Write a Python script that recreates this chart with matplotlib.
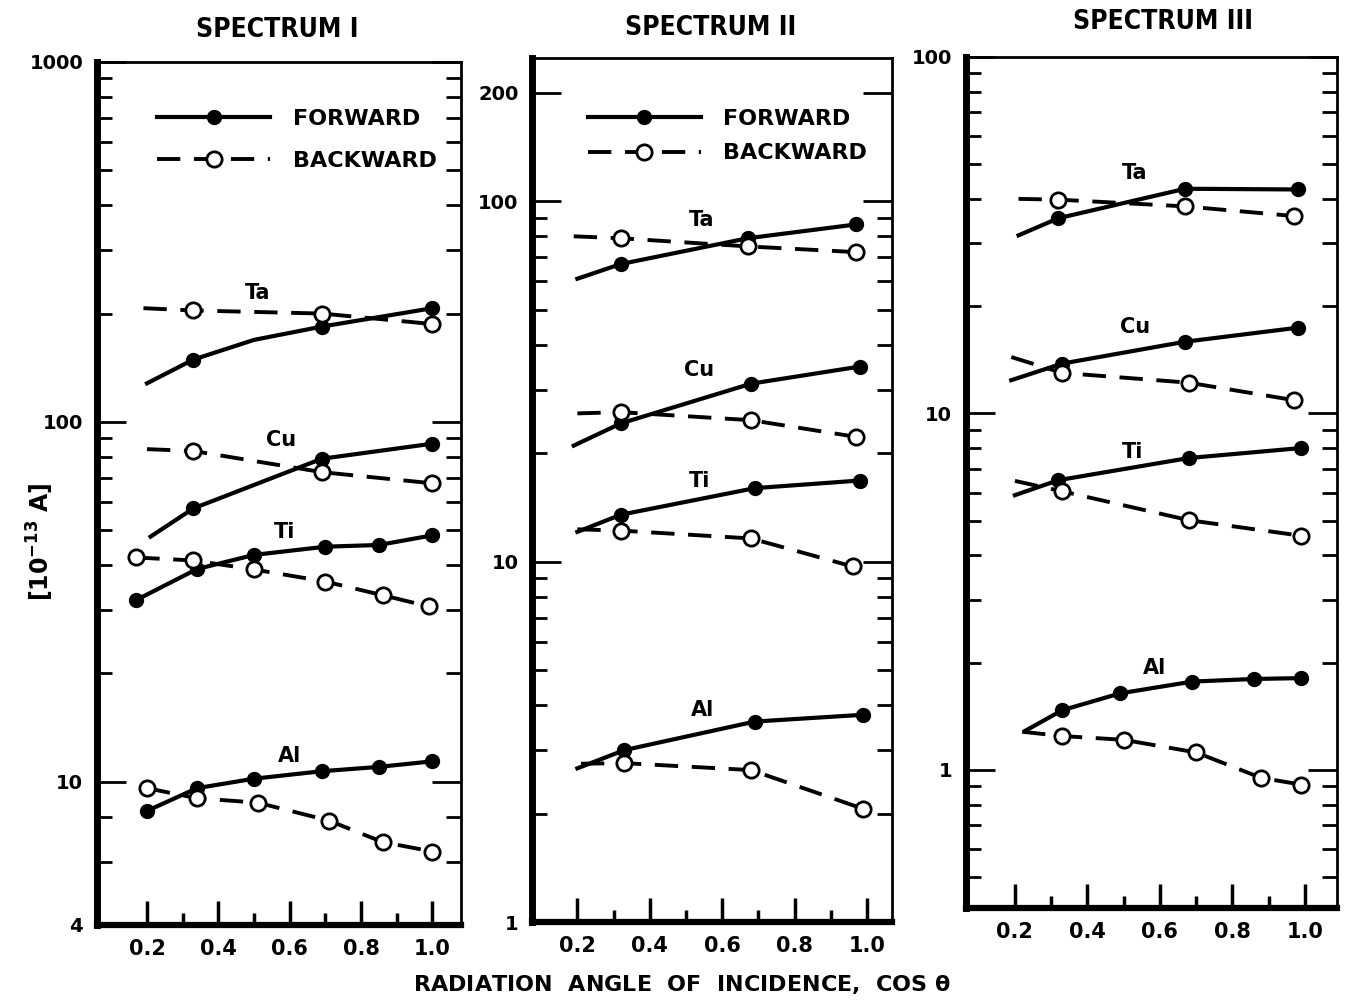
import matplotlib
matplotlib.use('Agg')
import matplotlib.pyplot as plt
from matplotlib.ticker import FixedLocator, NullFormatter
from matplotlib.lines import Line2D

plt.rcParams['font.family'] = ['DejaVu Sans']
plt.rcParams['font.weight'] = 'bold'
plt.rcParams['mathtext.default'] = 'bf'

# ---- data (first point of a curve with start=1 is the curve end, no marker) ----
# SPECTRUM I
s1_ta_fx, s1_ta_fy = [0.20, 0.33, 0.50, 0.69, 1.00], [128, 149, 169, 184, 207]
s1_ta_bx, s1_ta_by = [0.19, 0.33, 0.69, 1.00], [207, 204, 200, 187]
s1_cu_fx, s1_cu_fy = [0.21, 0.33, 0.69, 1.00], [48, 57.5, 79, 87]
s1_cu_bx, s1_cu_by = [0.20, 0.33, 0.69, 1.00], [84, 83, 72.5, 67.5]
s1_ti_fx, s1_ti_fy = [0.17, 0.34, 0.50, 0.70, 0.85, 1.00], [32, 39, 42.7, 45, 45.5, 48.4]
s1_ti_bx, s1_ti_by = [0.17, 0.33, 0.50, 0.70, 0.86, 0.99], [42, 41.2, 38.9, 36, 33, 30.7]
s1_al_fx, s1_al_fy = [0.20, 0.34, 0.50, 0.69, 0.85, 1.00], [8.3, 9.6, 10.2, 10.7, 11.0, 11.4]
s1_al_bx, s1_al_by = [0.20, 0.34, 0.51, 0.71, 0.86, 1.00], [9.6, 9.0, 8.75, 7.8, 6.8, 6.4]

# SPECTRUM II
s2_ta_fx, s2_ta_fy = [0.20, 0.32, 0.67, 0.97], [61, 67, 79, 86.3]
s2_ta_bx, s2_ta_by = [0.19, 0.32, 0.67, 0.97], [80, 79, 75, 72.3]
s2_cu_fx, s2_cu_fy = [0.19, 0.32, 0.68, 0.98], [21, 24.2, 31.2, 34.8]
s2_cu_bx, s2_cu_by = [0.20, 0.32, 0.68, 0.97], [25.8, 26, 24.7, 22.2]
s2_ti_fx, s2_ti_fy = [0.20, 0.32, 0.69, 0.98], [12.1, 13.5, 16.0, 16.8]
s2_ti_bx, s2_ti_by = [0.20, 0.32, 0.68, 0.96], [12.3, 12.2, 11.6, 9.7]
s2_al_fx, s2_al_fy = [0.20, 0.33, 0.69, 0.99], [2.67, 3.0, 3.6, 3.76]
s2_al_bx, s2_al_by = [0.21, 0.33, 0.68, 0.99], [2.75, 2.76, 2.64, 2.06]

# SPECTRUM III
s3_ta_fx, s3_ta_fy = [0.21, 0.32, 0.67, 0.98], [31.6, 35.3, 42.7, 42.5]
s3_ta_bx, s3_ta_by = [0.21, 0.32, 0.67, 0.97], [40, 39.8, 38.1, 35.8]
s3_cu_fx, s3_cu_fy = [0.19, 0.33, 0.67, 0.98], [12.4, 13.8, 15.9, 17.4]
s3_cu_bx, s3_cu_by = [0.19, 0.33, 0.68, 0.97], [14.4, 13.0, 12.2, 10.9]
s3_ti_fx, s3_ti_fy = [0.20, 0.32, 0.68, 0.99], [5.9, 6.5, 7.5, 8.0]
s3_ti_bx, s3_ti_by = [0.20, 0.33, 0.68, 0.99], [6.47, 6.05, 5.02, 4.54]
s3_al_fx, s3_al_fy = [0.23, 0.33, 0.49, 0.69, 0.86, 0.99], [1.29, 1.47, 1.64, 1.77, 1.80, 1.81]
s3_al_bx, s3_al_by = [0.22, 0.33, 0.50, 0.70, 0.88, 0.99], [1.28, 1.245, 1.215, 1.12, 0.95, 0.91]

x_ticks = [0.2, 0.4, 0.6, 0.8, 1.0]
x_ticklabels = ['0.2', '0.4', '0.6', '0.8', '1.0']
elements = ['Ta', 'Cu', 'Ti', 'Al']

fig = plt.figure(figsize=(13.48, 10), dpi=100)
ax1 = fig.add_axes([0.072, 0.075, 0.270, 0.863])
ax2 = fig.add_axes([0.395, 0.078, 0.267, 0.864])
ax3 = fig.add_axes([0.7166, 0.092, 0.275, 0.851])


def style(ax, ylim, ymajor, ylabels, yminor, xlim):
    ax.set_yscale('log')
    ax.set_ylim(*ylim)
    ax.set_xlim(*xlim)
    ax.yaxis.set_major_locator(FixedLocator(ymajor))
    ax.set_yticklabels(ylabels)
    ax.yaxis.set_minor_locator(FixedLocator(yminor))
    ax.yaxis.set_minor_formatter(NullFormatter())
    ax.set_xticks(x_ticks)
    ax.set_xticklabels(x_ticklabels)
    ax.set_xticks([0.3, 0.5, 0.7, 0.9], minor=True)
    ax.tick_params(axis='y', which='major', direction='in', length=21, width=2,
                   left=True, right=True, labelsize=14, pad=10)
    ax.tick_params(axis='y', which='minor', direction='in', length=11, width=2,
                   left=True, right=True)
    ax.tick_params(axis='x', which='major', direction='in', length=17, width=2.5,
                   labelsize=15, pad=10)
    ax.tick_params(axis='x', which='minor', direction='in', length=9, width=2.5)
    ax.spines['left'].set_linewidth(5)
    ax.spines['bottom'].set_linewidth(4.5)
    ax.spines['top'].set_linewidth(2)
    ax.spines['right'].set_linewidth(2)


def fwd(ax, x, y, marks=None):
    ax.plot(x, y, '-', color='k', lw=3, marker='o', ms=10, mfc='k', mec='k',
            markevery=marks, zorder=3)


def bwd(ax, x, y, marks=None):
    ax.plot(x, y, color='k', lw=2.8, ls=(0, (6, 3.5)), marker='o', ms=11,
            mfc='white', mec='k', mew=2, markevery=marks, zorder=4)


def legend(ax, anchor, spacing):
    h = [Line2D([], [], color='k', lw=3, marker='o', ms=10, mfc='k'),
         Line2D([], [], color='k', lw=2.8, ls=(0, (6, 3.5)), marker='o', ms=11,
                mfc='white', mew=2)]
    ax.legend(h, ['FORWARD', 'BACKWARD'], loc='upper left', bbox_to_anchor=anchor,
              frameon=False, handlelength=5.1, handletextpad=1.0, labelspacing=spacing,
              borderpad=0, borderaxespad=0, numpoints=1,
              prop={'size': 16, 'weight': 'bold'})


# Spectrum I
style(ax1, (4, 1000), [4, 10, 100, 1000], ['4', '10', '100', '1000'],
      [6, 8] + list(range(20, 100, 10)) + list(range(200, 1000, 100)), (0.06, 1.08))
fwd(ax1, s1_ta_fx, s1_ta_fy, [1, 3, 4]); bwd(ax1, s1_ta_bx, s1_ta_by, [1, 2, 3])
fwd(ax1, s1_cu_fx, s1_cu_fy, [1, 2, 3]); bwd(ax1, s1_cu_bx, s1_cu_by, [1, 2, 3])
fwd(ax1, s1_ti_fx, s1_ti_fy); bwd(ax1, s1_ti_bx, s1_ti_by)
fwd(ax1, s1_al_fx, s1_al_fy); bwd(ax1, s1_al_bx, s1_al_by)
legend(ax1, (0.165, 0.9455), 1.0)
for name, tx, ty in zip(elements, [0.51, 0.576, 0.585, 0.60], [228, 89, 49.3, 11.8]):
    ax1.text(tx, ty, name, fontsize=15, fontweight='bold', ha='center', va='center')

# Spectrum II
style(ax2, (1, 250), [1, 10, 100, 200], ['1', '10', '100', '200'],
      list(range(2, 10)) + list(range(20, 100, 10)), (0.076, 1.07))
for fx, fy, bx, by in [(s2_ta_fx, s2_ta_fy, s2_ta_bx, s2_ta_by),
                       (s2_cu_fx, s2_cu_fy, s2_cu_bx, s2_cu_by),
                       (s2_ti_fx, s2_ti_fy, s2_ti_bx, s2_ti_by),
                       (s2_al_fx, s2_al_fy, s2_al_bx, s2_al_by)]:
    fwd(ax2, fx, fy, [1, 2, 3]); bwd(ax2, bx, by, [1, 2, 3])
legend(ax2, (0.153, 0.941), 0.65)
for name, tx, ty in zip(elements, [0.542, 0.537, 0.537, 0.545], [89, 34, 16.7, 3.88]):
    ax2.text(tx, ty, name, fontsize=15, fontweight='bold', ha='center', va='center')

# Spectrum III
style(ax3, (0.41, 100), [1, 10, 100], ['1', '10', '100'],
      [0.5, 0.6, 0.7, 0.8, 0.9] + list(range(2, 10)) + list(range(20, 100, 10)), (0.065, 1.088))
for fx, fy, bx, by in [(s3_ta_fx, s3_ta_fy, s3_ta_bx, s3_ta_by),
                       (s3_cu_fx, s3_cu_fy, s3_cu_bx, s3_cu_by),
                       (s3_ti_fx, s3_ti_fy, s3_ti_bx, s3_ti_by),
                       (s3_al_fx, s3_al_fy, s3_al_bx, s3_al_by)]:
    fwd(ax3, fx, fy, list(range(1, len(fx)))); bwd(ax3, bx, by, list(range(1, len(bx))))
for name, tx, ty in zip(elements, [0.531, 0.531, 0.525, 0.586], [47.3, 17.5, 7.8, 1.93]):
    ax3.text(tx, ty, name, fontsize=15, fontweight='bold', ha='center', va='center')

title_kw = dict(fontsize=19, fontweight='bold', fontstretch='condensed', ha='center', va='center')
fig.text(0.206, 0.970, 'SPECTRUM I', **title_kw)
fig.text(0.527, 0.972, 'SPECTRUM II', **title_kw)
fig.text(0.863, 0.978, 'SPECTRUM III', **title_kw)

fig.text(0.506, 0.015, 'RADIATION  ANGLE  OF  INCIDENCE,  COS $\\theta$', fontsize=16,
         fontweight='bold', ha='center', va='center')
fig.text(0.03, 0.458, r'$\left[10^{-13}\ \mathrm{A}\right]$', fontsize=17,
         rotation=90, ha='center', va='center')

fig.savefig('out.png', dpi=100)
